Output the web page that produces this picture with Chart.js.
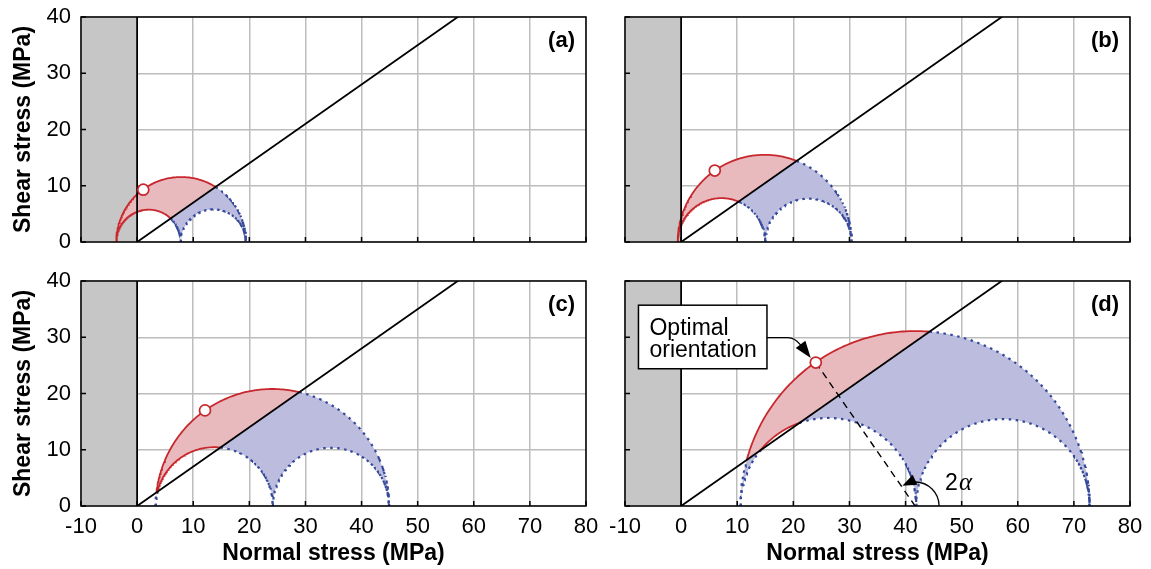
<!DOCTYPE html>
<html>
<head>
<meta charset="utf-8">
<script src="https://cdn.jsdelivr.net/npm/chart.js@4.4.1/dist/chart.umd.min.js"></script>
<style>
  html, body { margin: 0; padding: 0; background: #fff; }
  #wrap { position: relative; width: 1151px; height: 569px; }
  canvas { position: absolute; }
</style>
</head>
<body>
<div id="wrap">
  <canvas id="pa" width="600" height="260" style="left:0;top:0"></canvas>
  <canvas id="pb" width="551" height="260" style="left:600px;top:0"></canvas>
  <canvas id="pc" width="600" height="309" style="left:0;top:260px"></canvas>
  <canvas id="pd" width="551" height="309" style="left:600px;top:260px"></canvas>
</div>
<script>
// principal stresses (MPa)
const panelLabels = ["(a)", "(b)", "(c)", "(d)"];
const sigma1 = [19.4, 30.4, 44.9, 72.8];
const sigma2 = [7.8, 15.0, 24.2, 41.9];
const sigma3 = [-3.7, -0.6, 3.3, 10.6];
// optimally oriented plane (open circle)
const optimalX = [1.1, 6.0, 12.1, 24.0];
const optimalY = [9.3, 12.7, 17.0, 25.5];
const friction = 0.7;
const xTicks = [-10, 0, 10, 20, 30, 40, 50, 60, 70, 80];
const yTicks = [0, 10, 20, 30, 40];

const RED = "#c8282d";
const RED_FILL = "#e8babd";
const BLUE = "#34499a";
const BLUE_FILL = "#bcbcde";
const GREY = "#c6c6c6";
const GRID = "#bdbdbd";
const FONT = "'Liberation Sans', Arial, Helvetica, sans-serif";

Chart.defaults.font.family = FONT;
Chart.defaults.font.size = 22;
Chart.defaults.color = "#000";

// where tau = mu * sigma cuts a circle centred at (c, 0)
function lineCross(c, r) {
  const a = 1 + friction * friction, b = -2 * c, k = c * c - r * r;
  const d = b * b - 4 * a * k;
  if (d < 0) return [];
  return [(-b - Math.sqrt(d)) / (2 * a), (-b + Math.sqrt(d)) / (2 * a)].filter(s => s > 0);
}

function semicircle(lo, hi) {
  const c = (lo + hi) / 2, r = (hi - lo) / 2;
  const angles = [];
  for (let i = 0; i <= 180; i++) angles.push(Math.PI * (1 - i / 180));
  lineCross(c, r).forEach(s => angles.push(Math.atan2(friction * s, s - c)));
  angles.sort((p, q) => q - p);
  return angles.map(t => ({ x: c + r * Math.cos(t), y: Math.max(0, r * Math.sin(t)) }));
}

function height(lo, hi, s) {
  const c = (lo + hi) / 2, r = (hi - lo) / 2;
  return Math.sqrt(Math.max(0, r * r - (s - c) * (s - c)));
}

const isAbove = ctx => {
  const mx = (ctx.p0.parsed.x + ctx.p1.parsed.x) / 2;
  const my = (ctx.p0.parsed.y + ctx.p1.parsed.y) / 2;
  return my > friction * mx + 1e-9;
};

function curve(data) {
  return {
    data, pointRadius: 0, borderWidth: 1.8, borderColor: RED, fill: false,
    segment: {
      borderColor: ctx => isAbove(ctx) ? RED : BLUE,
      borderDash: ctx => isAbove(ctx) ? [] : [2.5, 4.5],
      borderWidth: ctx => isAbove(ctx) ? 1.8 : 2.2
    }
  };
}

function plain(data, extra) {
  return Object.assign({ data, pointRadius: 0, borderWidth: 0, fill: false }, extra);
}

function buildDatasets(i) {
  const s1 = sigma1[i], s2 = sigma2[i], s3 = sigma3[i];
  const big = semicircle(s3, s1), left = semicircle(s3, s2), right = semicircle(s2, s1);

  let xs = big.concat(left, right).map(p => p.x).filter(v => v >= s3 && v <= s1);
  xs.sort((p, q) => p - q);
  xs = xs.filter((v, k) => k === 0 || v - xs[k - 1] > 1e-9);

  const U = s => height(s3, s1, s);
  const L = s => s <= s2 ? height(s3, s2, s) : height(s2, s1, s);
  const f = s => friction * s;

  const redUp = xs.map(s => ({ x: s, y: U(s) }));
  const redLow = xs.map(s => ({ x: s, y: Math.min(U(s), Math.max(L(s), f(s))) }));
  const blueUp = xs.map(s => ({ x: s, y: Math.max(L(s), Math.min(U(s), f(s))) }));
  const blueLow = xs.map(s => ({ x: s, y: L(s) }));

  const ds = [];
  ds.push({
    data: [{ x: optimalX[i], y: optimalY[i] }], showLine: false,
    pointRadius: 5.5, pointBorderWidth: 1.7, pointBackgroundColor: "#fff", pointBorderColor: RED
  });
  if (i === 3) {
    ds.push(plain([{ x: optimalX[i], y: optimalY[i] }, { x: (s1 + s3) / 2, y: 0 }],
      { borderWidth: 1.4, borderColor: "#000", borderDash: [7, 5] }));
  }
  ds.push(plain([{ x: 0, y: 0 }, { x: 80, y: friction * 80 }], { borderWidth: 1.8, borderColor: "#000" }));
  ds.push(plain([{ x: 0, y: 0 }, { x: 0, y: 40 }], { borderWidth: 1.8, borderColor: "#000" }));
  ds.push(curve(big));
  ds.push(curve(left));
  ds.push(curve(right));
  ds.push(plain(redUp, { fill: "+1", backgroundColor: RED_FILL }));
  ds.push(plain(redLow));
  ds.push(plain(blueUp, { fill: "+1", backgroundColor: BLUE_FILL }));
  ds.push(plain(blueLow));
  ds.push(plain([{ x: -10, y: 40 }, { x: 0, y: 40 }], { fill: "origin", backgroundColor: GREY }));
  return ds;
}

function arrowHead(ctx, tx, ty, ang, len, half) {
  const bx = tx - len * Math.cos(ang), by = ty - len * Math.sin(ang);
  ctx.beginPath();
  ctx.moveTo(tx, ty);
  ctx.lineTo(bx + half * Math.sin(ang), by - half * Math.cos(ang));
  ctx.lineTo(bx - half * Math.sin(ang), by + half * Math.cos(ang));
  ctx.closePath();
  ctx.fill();
}

function drawNotes(chart) {
  const { ctx, scales: { x, y } } = chart;
  const px = v => x.getPixelForValue(v), py = v => y.getPixelForValue(v);

  // label box
  const bx0 = px(-7.6), by0 = py(35.7), bx1 = px(15.3), by1 = py(24.4);
  ctx.fillStyle = "#fff";
  ctx.fillRect(bx0, by0, bx1 - bx0, by1 - by0);
  ctx.strokeStyle = "#000";
  ctx.lineWidth = 1.5;
  ctx.strokeRect(bx0, by0, bx1 - bx0, by1 - by0);
  ctx.fillStyle = "#000";
  ctx.font = "23px " + FONT;
  ctx.textAlign = "left";
  ctx.textBaseline = "alphabetic";
  ctx.fillText("Optimal", bx0 + 11, by0 + 30);
  ctx.fillText("orientation", bx0 + 11, by0 + 52);

  // arrow to the optimal point
  const mx = px(optimalX[3]), my = py(optimalY[3]);
  const tipX = mx - 5, tipY = my - 4.5;
  ctx.lineWidth = 1.3;
  ctx.beginPath();
  ctx.moveTo(bx1, my - 25);
  ctx.lineTo(mx - 28, my - 25);
  ctx.quadraticCurveTo(mx - 21, my - 25, tipX - 10, tipY - 13);
  ctx.stroke();
  arrowHead(ctx, tipX, tipY, Math.atan2(12, 9), 17, 6);

  // 2 alpha arc
  const cx = px((sigma1[3] + sigma3[3]) / 2), cy = py(0), R = 24;
  ctx.beginPath();
  ctx.arc(cx, cy, R, 0, -Math.PI * 98 / 180, true);
  ctx.stroke();
  const te = Math.PI * 122 / 180;
  const hx = cx + R * Math.cos(te), hy = cy - R * Math.sin(te);
  arrowHead(ctx, hx, hy, Math.atan2(-Math.cos(te), -Math.sin(te)) + 0.12, 14, 5.5);

  ctx.font = "23px " + FONT;
  ctx.fillText("2", cx + 30, cy - 16);
  const w2 = ctx.measureText("2").width;
  ctx.font = "italic 25px 'Liberation Serif', 'DejaVu Serif', serif";
  ctx.fillText("\u03B1", cx + 31 + w2, cy - 16);
}

const decor = {
  id: "decor",
  afterDatasetsDraw(chart, args, opts) {
    const { ctx, chartArea: a, scales: { x, y } } = chart;
    ctx.save();
    ctx.strokeStyle = "#000";
    ctx.lineWidth = 1.5;
    ctx.beginPath();
    xTicks.forEach(v => {
      const p = x.getPixelForValue(v);
      ctx.moveTo(p, a.bottom); ctx.lineTo(p, a.bottom - 5);
    });
    yTicks.forEach(v => {
      const p = y.getPixelForValue(v);
      ctx.moveTo(a.left, p); ctx.lineTo(a.left + 5, p);
    });
    ctx.stroke();
    ctx.strokeRect(a.left, a.top, a.right - a.left, a.bottom - a.top);

    if (opts.index === 3) drawNotes(chart);

    ctx.fillStyle = "#000";
    ctx.font = "bold 22px " + FONT;
    ctx.textAlign = "right";
    ctx.textBaseline = "middle";
    ctx.fillText(panelLabels[opts.index], a.right - 11, a.top + 24);
    ctx.restore();
  }
};

function makePanel(id, i) {
  const leftCol = i % 2 === 0, bottomRow = i >= 2;
  new Chart(document.getElementById(id), {
    type: "line",
    data: { datasets: buildDatasets(i) },
    plugins: [decor],
    options: {
      responsive: false,
      animation: false,
      devicePixelRatio: 1,
      layout: { padding: { top: bottomRow ? 21 : 17, right: leftCol ? 14 : 21, left: 0, bottom: 0 } },
      plugins: { legend: { display: false }, tooltip: { enabled: false }, decor: { index: i } },
      elements: { line: { tension: 0 } },
      scales: {
        x: {
          type: "linear", min: -10, max: 80,
          afterBuildTicks: s => { s.ticks = xTicks.map(v => ({ value: v })); },
          afterFit: s => { s.height = bottomRow ? 63 : 18; s.paddingLeft = 0; s.paddingRight = 0; },
          ticks: { display: bottomRow, padding: 8, autoSkip: false, maxRotation: 0, callback: v => String(v) },
          grid: { color: GRID, lineWidth: 1.5, drawTicks: false },
          border: { display: false },
          title: { display: bottomRow, text: "Normal stress (MPa)", font: { weight: "bold", size: 23 }, padding: { top: 0, bottom: 2 } }
        },
        y: {
          type: "linear", min: 0, max: 40,
          afterBuildTicks: s => { s.ticks = yTicks.map(v => ({ value: v })); },
          afterFit: s => { s.width = leftCol ? 81 : 25; s.paddingTop = 0; s.paddingBottom = 0; },
          ticks: { display: leftCol, padding: 10, callback: v => String(v) },
          grid: { color: GRID, lineWidth: 1.5, drawTicks: false },
          border: { display: false },
          title: { display: leftCol, text: "Shear stress (MPa)", font: { weight: "bold", size: 23 }, padding: { top: 10, bottom: 0 } }
        }
      }
    }
  });
}

makePanel("pa", 0);
makePanel("pb", 1);
makePanel("pc", 2);
makePanel("pd", 3);
</script>
</body>
</html>
